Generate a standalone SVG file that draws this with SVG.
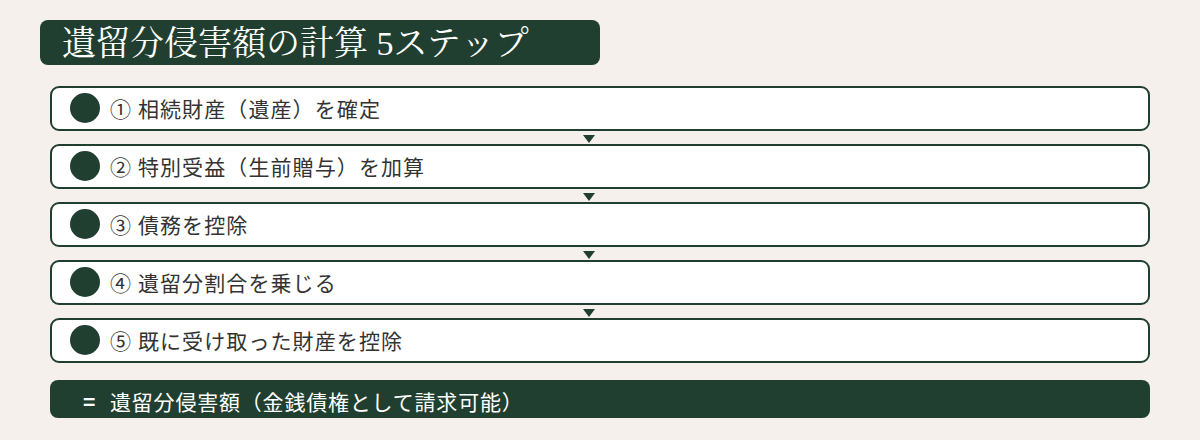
<svg xmlns="http://www.w3.org/2000/svg" width="1200" height="440" viewBox="0 0 1200 440">
<style>
.bg{fill:#f5f0ec}
.box{fill:#ffffff;stroke:#213f30;stroke-width:2}
.dot{fill:#213f30}
.lbl{font-family:"Noto Sans CJK JP","Noto Sans",sans-serif;font-size:21px;fill:#333333;letter-spacing:1.1px}
.title{font-family:"Liberation Serif","Noto Serif CJK JP",serif;font-size:34px;fill:#ffffff}
.res{font-family:"Noto Sans CJK JP","Noto Sans",sans-serif;font-size:21px;fill:#ffffff;letter-spacing:0.8px}
.arr{fill:#213f30}
</style>
<rect class="bg" x="0" y="0" width="1200" height="440"/>
<g id="title">
<rect x="40" y="20" width="560" height="45" rx="8" fill="#213f30"/>
<text class="title" x="62" y="55">遺留分侵害額の計算 5ステップ</text>
</g>
<g id="connectors">
<polygon class="arr" points="583,135 595,135 589,143"/>
<polygon class="arr" points="583,193 595,193 589,201"/>
<polygon class="arr" points="583,251 595,251 589,259"/>
<polygon class="arr" points="583,309 595,309 589,317"/>
</g>
<g id="step1">
<rect class="box" x="51" y="87" width="1098" height="43" rx="8"/>
<circle class="dot" cx="85" cy="108" r="15"/>
<text class="lbl" x="110" y="117">① 相続財産（遺産）を確定</text>
</g>
<g id="step2">
<rect class="box" x="51" y="145" width="1098" height="43" rx="8"/>
<circle class="dot" cx="85" cy="166" r="15"/>
<text class="lbl" x="110" y="175">② 特別受益（生前贈与）を加算</text>
</g>
<g id="step3">
<rect class="box" x="51" y="203" width="1098" height="43" rx="8"/>
<circle class="dot" cx="85" cy="224" r="15"/>
<text class="lbl" x="110" y="233">③ 債務を控除</text>
</g>
<g id="step4">
<rect class="box" x="51" y="261" width="1098" height="43" rx="8"/>
<circle class="dot" cx="85" cy="282" r="15"/>
<text class="lbl" x="110" y="291">④ 遺留分割合を乗じる</text>
</g>
<g id="step5">
<rect class="box" x="51" y="319" width="1098" height="43" rx="8"/>
<circle class="dot" cx="85" cy="340" r="15"/>
<text class="lbl" x="110" y="349">⑤ 既に受け取った財産を控除</text>
</g>
<g id="result">
<rect x="50" y="380" width="1100" height="38" rx="8" fill="#213f30"/>
<text class="res" x="83" y="410"><tspan font-weight="bold">=</tspan><tspan x="110">遺留分侵害額（金銭債権として請求可能）</tspan></text>
</g>
</svg>
